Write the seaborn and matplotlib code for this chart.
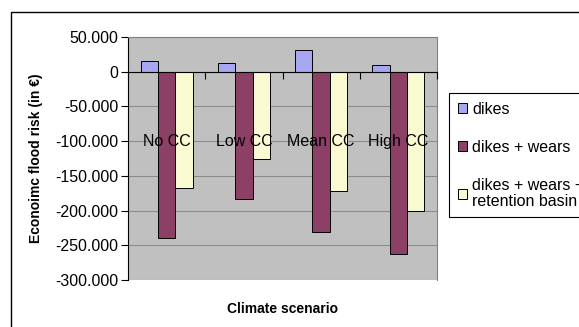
import pandas as pd
import seaborn as sns
import matplotlib.pyplot as plt
from matplotlib.patches import Rectangle
from matplotlib.ticker import FuncFormatter

# Values
scenarios = ['No CC', 'Low CC', 'Mean CC', 'High CC']
measures = ['dikes', 'dikes + wears', 'dikes + wears +\nretention basin']
dikes = [15000, 12000, 31000, 10000]
dikes_wears = [-240000, -184000, -231000, -263000]
dikes_wears_basin = [-167000, -125000, -172000, -200000]
colors = ['#9999FF', '#993366', '#FFFFCC']

# Long-form table for seaborn
df = pd.DataFrame({
    'scenario': scenarios * 3,
    'measure': [measures[0]] * 4 + [measures[1]] * 4 + [measures[2]] * 4,
    'risk': dikes + dikes_wears + dikes_wears_basin,
})

plt.rcParams['font.family'] = ['Liberation Sans', 'DejaVu Sans']

fig = plt.figure(figsize=(5.79, 3.27), dpi=100)
ax = fig.add_axes([128 / 579, 1 - 280 / 327, 309 / 579, 243 / 327])
ax.set_facecolor('#C0C0C0')

sns.barplot(data=df, x='scenario', y='risk', hue='measure', order=scenarios,
            hue_order=measures, palette=colors, edgecolor='black',
            linewidth=0.7, width=0.675, gap=0, ax=ax, errorbar=None)

ax.set_xlim(-0.5, 3.5)
ax.set_ylim(-300000, 50000)
ax.set_yticks(range(-300000, 50001, 50000))
ax.yaxis.set_major_formatter(FuncFormatter(lambda v, p: f'{v:,.0f}'.replace(',', '.')))
ax.tick_params(axis='y', labelsize=11.5, length=5, width=0.8, color='black', pad=2)

# gridlines behind bars, category labels above them
ax.yaxis.grid(True, color='#8C8C8C', linewidth=0.8)
ax.yaxis.set_zorder(0.5)
ax.xaxis.set_zorder(3)

# category axis sits on zero, labels drawn inside the plot
ax.spines['bottom'].set_position(('data', 0))
ax.spines['bottom'].set_color('black')
ax.spines['bottom'].set_linewidth(0.8)
ax.spines['left'].set_color('black')
ax.spines['left'].set_linewidth(0.8)
for s in ['top', 'right']:
    ax.spines[s].set_color('#808080')
    ax.spines[s].set_linewidth(0.8)

ax.set_xticks(range(len(scenarios)))
ax.set_xticklabels(scenarios)
ax.tick_params(axis='x', length=0, labelsize=11.5, pad=45)
ax.set_xticks([-0.5, 0.5, 1.5, 2.5, 3.5], minor=True)
ax.tick_params(axis='x', which='minor', length=5, width=0.8, direction='out', color='black')

ax.set_xlabel('Climate scenario', fontsize=10, fontweight='bold')
ax.xaxis.set_label_coords(0.5, -0.09)
ax.set_ylabel('Econoimc flood risk (in €)', fontsize=10, fontweight='bold')
ax.yaxis.set_label_coords(-0.275, 0.5)

leg = ax.legend(loc='upper left', bbox_to_anchor=(449 / 579, 1 - 93 / 327),
                bbox_transform=fig.transFigure, fontsize=11.5, frameon=True,
                fancybox=False, edgecolor='black', framealpha=1,
                handlelength=0.6, handleheight=0.6, handletextpad=0.3,
                labelspacing=1.45, borderpad=0.55, borderaxespad=0)
leg.get_frame().set_linewidth(0.8)
for t in leg.get_texts():
    t.set_linespacing(1.05)
for h in leg.legend_handles:
    h.set_edgecolor('black')
    h.set_linewidth(0.7)

# outer chart frame (cropped at right and bottom)
fig.patches.append(Rectangle((11 / 579, -0.1), 1.2, 1 - 12 / 327 + 0.1,
                             transform=fig.transFigure, fill=False,
                             edgecolor='black', linewidth=1.0))

fig.savefig('out.png', dpi=100)
